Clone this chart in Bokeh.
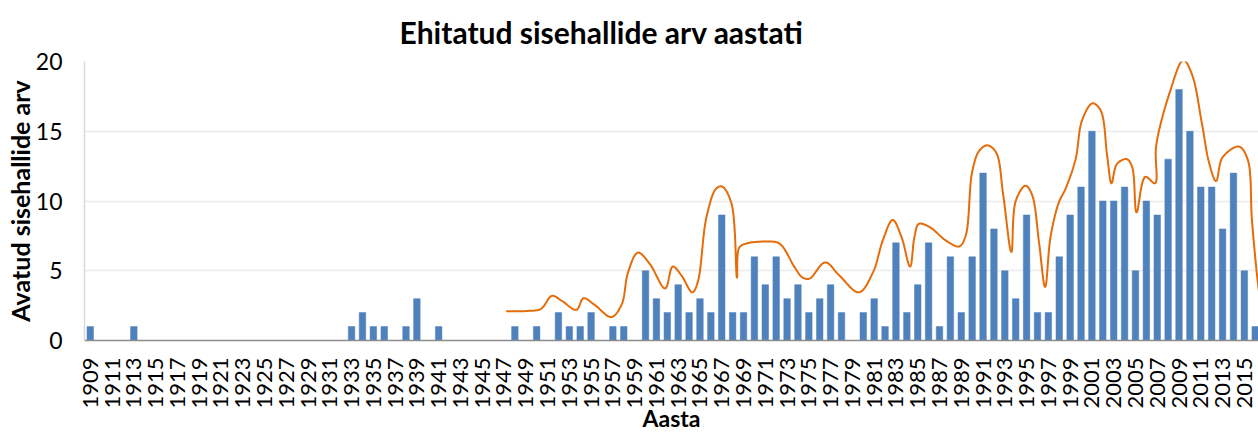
import math
import numpy as np
from bokeh.plotting import figure
from bokeh.models import Range1d, FixedTicker, ColumnDataSource
from bokeh.embed import file_html
from bokeh.resources import INLINE

# ---- data ----
years = list(range(1909, 2017))
halls = [
    1, 0, 0, 0, 1, 0, 0, 0, 0, 0,          # 1909-1918
    0, 0, 0, 0, 0, 0, 0, 0, 0, 0,          # 1919-1928
    0, 0, 0, 0, 1, 2, 1, 1, 0, 1,          # 1929-1938
    3, 0, 1, 0, 0, 0, 0, 0, 0, 1,          # 1939-1948
    0, 1, 0, 2, 1, 1, 2, 0, 1, 1,          # 1949-1958
    0, 5, 3, 2, 4, 2, 3, 2, 9, 2,          # 1959-1968
    2, 6, 4, 6, 3, 4, 2, 3, 4, 2,          # 1969-1978
    0, 2, 3, 1, 7, 2, 4, 7, 1, 6,          # 1979-1988
    2, 6, 12, 8, 5, 3, 9, 2, 2, 6,         # 1989-1998
    9, 11, 15, 10, 10, 11, 5, 10, 9, 13,   # 1999-2008
    18, 15, 11, 11, 8, 12, 5, 1,           # 2009-2016
]

# smoothed trend line
trend_x = [1947.2, 1949.2, 1950.4, 1951.4, 1952.3, 1953.65, 1954.3, 1955.3, 1956.86,
           1957.8, 1958.4, 1959.3, 1960.4, 1961.8, 1962.5, 1963.3, 1964.3, 1964.8,
           1965.6, 1966.5, 1967.05, 1967.9, 1968.4, 1968.6, 1969.25, 1971.1, 1972.3,
           1973.7, 1974.4, 1975.05, 1976.5, 1977.8, 1979.6, 1980.9, 1981.8, 1982.7,
           1983.5, 1984.3, 1984.7, 1985.1, 1986.1, 1987.6, 1988.8, 1989.4, 1990.0,
           1990.65, 1991.4, 1992.2, 1992.85, 1993.6, 1994.0, 1994.9, 1995.5, 1996.15,
           1996.7, 1997.2, 1997.95, 1998.6, 1999.5, 2000.1, 2001.05, 2001.8, 2002.4,
           2002.8, 2003.3, 2004.2, 2004.7, 2005.1, 2005.9, 2006.8, 2006.9, 2008.1,
           2009.4, 2010.2, 2011.1, 2011.75, 2012.4, 2013.0, 2014.5, 2015.3, 2015.7,
           2016.2, 2016.6]
trend_y = [2.1, 2.12, 2.27, 3.2, 2.85, 2.2, 3.03, 2.57, 1.68,
           2.57, 4.9, 6.3, 5.48, 3.73, 5.3, 4.66, 3.45, 4.2,
           8.86, 10.9, 11.03, 9.8, 4.48, 6.65, 6.95, 7.09, 6.95,
           5.24, 4.53, 4.43, 5.6, 4.66, 3.45, 4.9, 7.2, 8.64,
           7.44, 5.3, 7.44, 8.36, 8.13, 7.16, 6.74, 7.5, 12.08,
           13.6, 13.99, 13.48, 10.45, 6.34, 10.0, 11.1, 10.45, 6.97,
           3.83, 7.44, 9.87, 10.92, 13.0, 15.8, 17.0, 16.5, 13.24,
           11.27, 12.66, 13.0, 12.43, 9.18, 11.73, 11.27, 13.94, 17.66,
           20.1, 19.05, 15.57, 12.78, 11.43, 13.13, 13.9, 13.0, 8.6,
           4.42, 2.0]

x_ticks = list(range(1909, 2016, 2))
y_ticks = [0, 5, 10, 15, 20]

title_text = "Ehitatud sisehallide arv aastati"
x_title = "Aasta"
y_title = "Avatud sisehallide arv"


def smooth(xs, ys, sx, sy, samples=16, alpha=0.5):
    """Centripetal Catmull-Rom rendering of a smoothed line."""
    P = np.column_stack([np.asarray(xs) * sx, np.asarray(ys) * sy])
    P = np.vstack([2 * P[0] - P[1], P, 2 * P[-1] - P[-2]])
    out = []
    for i in range(1, len(P) - 2):
        p0, p1, p2, p3 = P[i - 1], P[i], P[i + 1], P[i + 2]
        t0 = 0.0
        t1 = t0 + np.linalg.norm(p1 - p0) ** alpha
        t2 = t1 + np.linalg.norm(p2 - p1) ** alpha
        t3 = t2 + np.linalg.norm(p3 - p2) ** alpha
        t = np.linspace(t1, t2, samples, endpoint=False)[:, None]
        A1 = (t1 - t) / (t1 - t0) * p0 + (t - t0) / (t1 - t0) * p1
        A2 = (t2 - t) / (t2 - t1) * p1 + (t - t1) / (t2 - t1) * p2
        A3 = (t3 - t) / (t3 - t2) * p2 + (t - t2) / (t3 - t2) * p3
        B1 = (t2 - t) / (t2 - t0) * A1 + (t - t0) / (t2 - t0) * A2
        B2 = (t3 - t) / (t3 - t1) * A2 + (t - t1) / (t3 - t1) * A3
        C = (t2 - t) / (t2 - t1) * B1 + (t - t1) / (t2 - t1) * B2
        out.append(C)
    out.append(P[-2][None, :])
    R = np.vstack(out)
    return R[:, 0] / sx, R[:, 1] / sy


X0, X1 = 1908.47, 2016.3
p = figure(width=1258, height=434, output_backend="svg", toolbar_location=None,
           x_range=Range1d(X0, X1), y_range=Range1d(0, 20),
           min_border_left=84, min_border_right=0, min_border_top=60,
           min_border_bottom=87)

p.title.text = title_text
p.title.text_font = "Lato"
p.title.text_font_style = "bold"
p.title.text_font_size = "30px"
p.title.align = "left"
p.title.offset = 315
p.title.standoff = 23
p.title.text_color = "#000000"

p.outline_line_color = None
p.background_fill_color = "white"
p.border_fill_color = "white"

src = ColumnDataSource(dict(year=years, halls=halls))
p.vbar(x="year", top="halls", width=0.6, source=src,
       fill_color="#4F81BD", line_color="#4F81BD", line_width=0.5)

lx, ly = smooth(trend_x, trend_y, 10.89, 14.0)
p.line(lx, ly, line_color="#E46C0A", line_width=2)

# axes
p.xgrid.grid_line_color = None
p.ygrid.grid_line_color = "#EBEBEB"
p.ygrid.grid_line_width = 1.5
p.ygrid.ticker = FixedTicker(ticks=y_ticks)

p.xaxis.ticker = FixedTicker(ticks=x_ticks)
p.xaxis.major_label_orientation = math.pi / 2
p.xaxis.major_label_text_font = "Lato"
p.xaxis.major_label_text_font_size = "22px"
p.xaxis.major_label_text_color = "#000000"
p.xaxis.major_label_standoff = 17
p.xaxis.major_tick_out = 0
p.xaxis.major_tick_in = 0
p.xaxis.major_tick_line_color = None
p.xaxis.minor_tick_line_color = None
p.xaxis.axis_line_color = "#8C8C8C"
p.xaxis.axis_line_width = 1.5
p.xaxis.axis_label = x_title
p.xaxis.axis_label_text_font = "Lato"
p.xaxis.axis_label_text_font_style = "bold"
p.xaxis.axis_label_text_font_size = "23px"
p.xaxis.axis_label_text_color = "#000000"
p.xaxis.axis_label_standoff = -8

p.yaxis.ticker = FixedTicker(ticks=y_ticks)
p.yaxis.major_label_text_font = "Lato"
p.yaxis.major_label_text_font_size = "23px"
p.yaxis.major_label_text_color = "#000000"
p.yaxis.major_label_standoff = 22
p.yaxis.major_tick_out = 0
p.yaxis.major_tick_in = 0
p.yaxis.major_tick_line_color = None
p.yaxis.minor_tick_line_color = None
p.yaxis.axis_line_color = "#D9D9D9"
p.yaxis.axis_line_width = 1.5
p.yaxis.axis_label = y_title
p.yaxis.axis_label_text_font = "Lato"
p.yaxis.axis_label_text_font_style = "bold"
p.yaxis.axis_label_text_font_size = "25px"
p.yaxis.axis_label_text_color = "#000000"
p.yaxis.axis_label_standoff = -2

open("out.html", "w").write(file_html(p, INLINE))
